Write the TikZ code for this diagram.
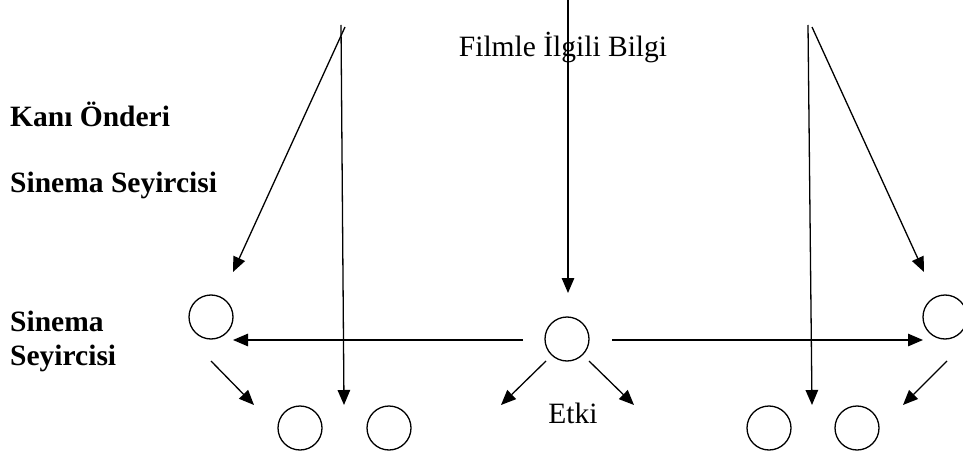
\documentclass[tikz,border=0pt]{standalone}
\usepackage{fontspec}
\setmainfont{Liberation Serif}
\usetikzlibrary{arrows.meta}
\begin{document}
\begin{tikzpicture}[x=1pt,y=-1pt,
  every node/.style={inner sep=0pt},
  txt/.style={font=\fontsize{29.5}{35}\selectfont},
  btxt/.style={font=\fontsize{29.5}{35}\selectfont\bfseries},
  person/.style={circle,draw,line width=1.3pt,minimum size=44pt},
  conn/.style={line width=1.3pt,-{Triangle[length=15pt,width=12.5pt]}}]
\useasboundingbox (0,0) rectangle (963,457);
\clip (0,0) rectangle (963,457);
% texts
\node[btxt,anchor=base west] (t1) at (10,126.5) {Kanı Önderi};
\node[btxt,anchor=base west] (t2) at (10,193) {Sinema Seyircisi};
\node[btxt,anchor=base west] (t3) at (10,331.5) {Sinema};
\node[btxt,anchor=base west] (t4) at (10,365) {Seyircisi};
\node[txt,anchor=base] (film) at (563,57) {Filmle İlgili Bilgi};
\node[txt,anchor=base] (etki) at (573,423) {Etki};
% circles
\node[person] (cL) at (211,317) {};
\node[person] (cC) at (567,339) {};
\node[person] (cR) at (945,317) {};
\node[person] (b1) at (300,428) {};
\node[person] (b2) at (389,428) {};
\node[person] (b3) at (769,428) {};
\node[person] (b4) at (857,428) {};
% free ends
\coordinate (sLv) at (341,25);
\coordinate (eLv) at (344,405);
\coordinate (sLs) at (345,27);
\coordinate (eLs) at (233,272);
\coordinate (sC) at (568,0);
\coordinate (eC) at (568,293);
\coordinate (sRv) at (808,25);
\coordinate (eRv) at (812,405);
\coordinate (sRs) at (812,27);
\coordinate (eRs) at (924,272);
\coordinate (hLs) at (523,340);
\coordinate (hLe) at (233,340);
\coordinate (hRs) at (612,340);
\coordinate (hRe) at (923,340);
\coordinate (dLs) at (211,361);
\coordinate (dLe) at (254,405);
\coordinate (dC1s) at (546,361);
\coordinate (dC1e) at (501,405);
\coordinate (dC2s) at (589,361);
\coordinate (dC2e) at (634,405);
\coordinate (dRs) at (947,361);
\coordinate (dRe) at (903,405);
% connectors
\draw[conn] (sLv) -- (eLv);
\draw[conn] (sLs) -- (eLs);
\draw[conn] (sC) -- (eC);
\draw[conn] (sRv) -- (eRv);
\draw[conn] (sRs) -- (eRs);
\draw[conn] (hLs) -- (hLe);
\draw[conn] (hRs) -- (hRe);
\draw[conn] (dLs) -- (dLe);
\draw[conn] (dC1s) -- (dC1e);
\draw[conn] (dC2s) -- (dC2e);
\draw[conn] (dRs) -- (dRe);
\end{tikzpicture}
\end{document}
